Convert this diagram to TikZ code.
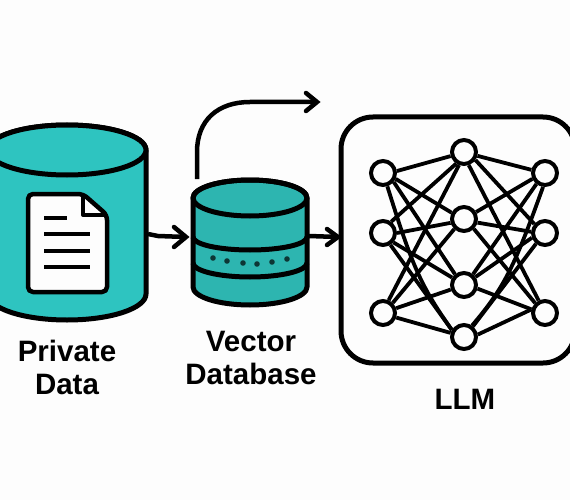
\documentclass[tikz,border=0pt]{standalone}
\usepackage{fontspec}
\setmainfont{Liberation Sans}
\definecolor{tealA}{HTML}{2EC4C0}
\definecolor{tealB}{HTML}{2DB5B0}
\definecolor{paper}{HTML}{FDFDFD}
\tikzset{
  outline/.style={draw=black,line width=5pt,line join=round},
  docline/.style={draw=black,line width=3.8pt},
  conn/.style={draw=black,line width=4.5pt},
  chevron/.style={draw=black,line width=4.5pt,line cap=round,line join=miter},
  neuron/.style={circle,draw=black,fill=paper,line width=4pt,minimum size=24pt,inner sep=0pt},
  syn/.style={draw=black,line width=3.8pt},
  label/.style={font=\fontsize{29.5}{33}\selectfont\bfseries,align=center,inner sep=0pt},
  dot/.style={fill=black!70!tealB,draw=none}
}
\begin{document}
\begin{tikzpicture}[x=1pt,y=-1pt]
\useasboundingbox (0,0) rectangle (570,500);
\clip (0,0) rectangle (570,500);
\fill[paper] (0,0) rectangle (570,500);
% big cylinder
\path[outline,fill=tealA] (-12,150) -- (-12,294) arc[start angle=180,end angle=360,x radius=79pt,y radius=26pt] -- (146,150) arc[start angle=0,end angle=180,x radius=79pt,y radius=25pt] -- cycle;
\path[outline,fill=tealA] (67,150) ellipse[x radius=79pt,y radius=25pt];
\coordinate (bigout) at (148,234);
% document
\path[outline,fill=paper,line width=4.5pt,rounded corners=5pt] (28,194) -- (83,194) -- (107,215) -- (107,292) -- (28,292) -- cycle;
\path[draw=black,line width=4pt,line join=round] (83,194) -- (83,215) -- (107,215);
\draw[docline] (44,218) -- (67,218);
\draw[docline] (44,234) -- (90,234);
\draw[docline] (44,251) -- (90,251);
\draw[docline] (44,267) -- (90,267);
% small cylinder
\path[outline,fill=tealB] (193,198) -- (193,287) arc[start angle=180,end angle=360,x radius=57pt,y radius=18pt] -- (307,198) arc[start angle=0,end angle=180,x radius=57pt,y radius=18pt] -- cycle;
\path[outline] (250,198) ellipse[x radius=57pt,y radius=18pt];
\draw[outline] (193,237) arc[start angle=180,end angle=360,x radius=57pt,y radius=13pt];
\draw[outline] (193,263) arc[start angle=180,end angle=360,x radius=57pt,y radius=14pt];
\foreach \x/\y in {213/258,227/261,243/263,257/264,272/262,287/259}
  \fill[dot] (\x,\y) circle[radius=2.8pt];
\coordinate (smallout) at (309,236);
\coordinate (smalltop) at (197,179);
% connectors
\coordinate (a1) at (186,237);
\coordinate (a2) at (338,237);
\coordinate (a3) at (317,102);
\draw[conn] (bigout) -- (158,236) -- (a1);
\draw[chevron] (174,227) -- (a1) -- (174,247);
\draw[conn] (smallout) -- (a2);
\draw[chevron] (327,229) -- (a2) -- (327,245);
\draw[conn] (smalltop) -- (197,152) .. controls (197,120) and (218,102) .. (250,102) -- (a3);
\draw[chevron] (306,93) -- (a3) -- (306,111);
% LLM box
\draw[outline] (341,149) arc[start angle=180,end angle=90,radius=32pt] -- (543,117) arc[start angle=90,end angle=0,radius=32pt] -- (575,331) arc[start angle=0,end angle=-90,radius=32pt] -- (373,363) arc[start angle=-90,end angle=-180,radius=32pt] -- cycle;
% network
\foreach \n/\x/\y in {l1/383/173,l2/383/233,l3/383/313,m1/464/152,m2/464/219,m3/464/285,m4/464/337,r1/545/173,r2/545/233,r3/545/313}
  \node[neuron] (\n) at (\x,\y) {};
\foreach \a/\b in {
  l1.8/m1.197, l1.-25/m2.153, l1.-40/m3.130,
  l2.54/m1.236, l2.0/m2.196, l2.-42/m3.148, l2.-58/m4.150,
  l3.66/m1.249, l3.46/m2.226, l3.20/m3.199, l3.-19/m4.163,
  m1.-16/r1.167, m1.-35/r2.140, m1.-70/r3.117,
  m2.30/r1.205, m2.-15/r2.175, m2.-45/r3.135,
  m3.50/r1.232, m3.35/r2.200, m3.-15/r3.165,
  m4.50/r2.230, m4.10/r3.165}
  \draw[syn] (\a) -- (\b);
\draw[syn] (l1.-72) .. controls (412,265) and (420,285) .. (m4.150);
\draw[syn] (r1.262) .. controls (515,265) and (505,287) .. (m4.55);
% labels
\node[label] (t1) at (67,367) {Private\\Data};
\node[label] (t2) at (251,358) {Vector\\Database};
\node[label] (t3) at (465,399) {LLM};
\end{tikzpicture}
\end{document}
